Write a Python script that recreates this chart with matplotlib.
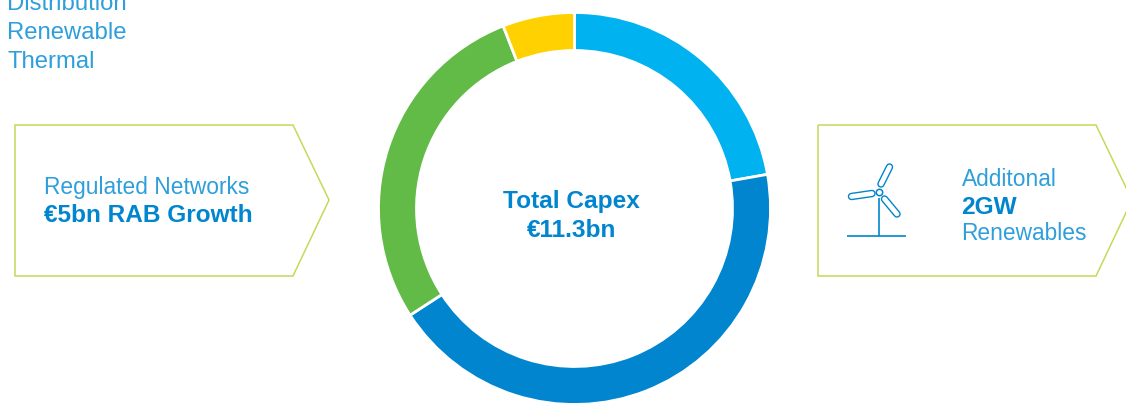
import matplotlib
matplotlib.use("Agg")
import matplotlib.pyplot as plt
from matplotlib.patches import Polygon

W, H = 1126, 403
plt.rcParams['font.family'] = ['Liberation Sans', 'DejaVu Sans']

capex_values = [2.51, 4.93, 3.19, 0.67]
slice_colors = ['#00B2F0', '#0085CE', '#62BB46', '#FFD100']
legend_labels = ['Distribution', 'Renewable', 'Thermal']
BLUE = '#0085CE'
LIGHT = '#2E9FDB'
BORDER = '#C5D95A'

fig = plt.figure(figsize=(W / 100, H / 100), dpi=100)
ax = fig.add_axes([0, 0, 1, 1])
ax.set_xlim(0, W)
ax.set_ylim(0, H)
ax.set_aspect('equal')


def Y(py):
    return H - py


ax.pie(capex_values, colors=slice_colors, startangle=90, counterclock=False,
       center=(574.5, Y(208.5)), radius=196, frame=True,
       wedgeprops=dict(width=38, edgecolor='white', linewidth=2))
ax.set_xlim(0, W)
ax.set_ylim(0, H)
ax.axis('off')

# Legend (cropped by the top edge)
for label, py in zip(legend_labels, [4.5, 33, 61.5]):
    ax.text(7, Y(py), label, color=LIGHT, fontsize=17.2, va='center', ha='left')

# Callout shapes
for x0, x1, x2 in [(15, 293, 329), (818, 1096, 1132)]:
    ax.add_patch(Polygon([(x0, Y(125)), (x1, Y(125)), (x2, Y(200)), (x1, Y(276)), (x0, Y(276))],
                         closed=True, fill=False, edgecolor=BORDER, linewidth=1.1, clip_on=True))

# Callout text
ax.text(44, Y(187.5), 'Regulated Networks', color=LIGHT, fontsize=16.4, va='center', ha='left')
ax.text(44, Y(216), '€5bn RAB Growth', color=BLUE, fontsize=17.6, fontweight='bold', va='center', ha='left')
ax.text(962, Y(179), 'Additonal', color=LIGHT, fontsize=16.4, va='center', ha='left')
ax.text(961, Y(207.5), '2GW', color=BLUE, fontsize=17.6, fontweight='bold', va='center', ha='left')
ax.text(961.5, Y(234), 'Renewables', color=LIGHT, fontsize=16.4, va='center', ha='left')

# Centre text
ax.text(571.5, Y(201.5), 'Total Capex', color=BLUE, fontsize=17.6, fontweight='bold', va='center', ha='center')
ax.text(571.5, Y(230.5), '€11.3bn', color=BLUE, fontsize=17.6, fontweight='bold', va='center', ha='center')

# Wind turbine icon
ax.plot([847, 906], [Y(235.5), Y(235.5)], color=BLUE, lw=1.2, solid_capstyle='butt')
ax.plot([878.7, 878.7], [Y(198), Y(235.5)], color=BLUE, lw=1.2, solid_capstyle='butt')
blades = [((881, 184), (889.5, 167)), ((872, 193.5), (851.5, 196.5)), ((884.5, 199), (897, 214))]
for (a, b) in blades:
    ax.plot([a[0], b[0]], [Y(a[1]), Y(b[1])], color=BLUE, lw=5.4, solid_capstyle='round')
    ax.plot([a[0], b[0]], [Y(a[1]), Y(b[1])], color='white', lw=3.4, solid_capstyle='round')
ax.plot([879], [Y(192.3)], marker='o', ms=4.6, mfc='white', mec=BLUE, mew=1.1)

fig.savefig('out.png', dpi=100)
